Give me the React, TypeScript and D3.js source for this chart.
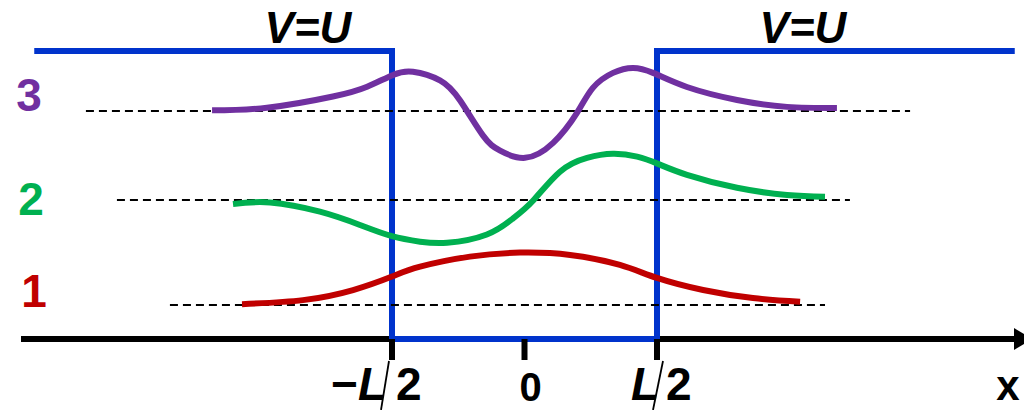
import * as d3 from "d3"

// potential well (x in units of L, energy in units of U)
const wellEdges = [-0.5, 0.5]
const barrierHeight = 1
const potentialSpan = [-1.85, 1.85]
const axisSpan = [-1.9, 1.9]

const tickValues = [-0.5, 0, 0.5]
const tickLabels = ["−L/2", "0", "L/2"]

const levelLabels = ["1", "2", "3"]
const levelEnergies = [0.118, 0.483, 0.792]
const levelLineSpans = [
  [-1.338, 1.134],
  [-1.538, 1.228],
  [-1.655, 1.455],
]

// wavefunctions: [x, psi offset from level]
const psi1 = [
  [-1.066, 0.003], [-0.836, 0.017], [-0.647, 0.052], [-0.5, 0.099],
  [-0.394, 0.133], [-0.206, 0.168], [-0.017, 0.182], [0.172, 0.174],
  [0.36, 0.139], [0.5, 0.094], [0.674, 0.052], [0.862, 0.024], [1.04, 0.011],
]
const psi2 = [
  [-1.1, -0.014], [-0.96, -0.009], [-0.772, -0.041], [-0.621, -0.087],
  [-0.5, -0.126], [-0.394, -0.145], [-0.292, -0.149], [-0.142, -0.12],
  [-0.043, -0.064], [0.032, -0.003], [0.134, 0.098], [0.236, 0.146],
  [0.334, 0.16], [0.425, 0.15], [0.504, 0.125], [0.613, 0.087],
  [0.802, 0.042], [0.991, 0.017], [1.134, 0.011],
]
const psi3 = [
  [-1.179, 0.002], [-0.972, 0.011], [-0.723, 0.05], [-0.594, 0.084],
  [-0.496, 0.125], [-0.421, 0.136], [-0.319, 0.106], [-0.243, 0.036],
  [-0.157, -0.085], [-0.092, -0.138], [0.002, -0.163],
  [0.108, -0.111], [0.198, -0.007], [0.258, 0.08], [0.334, 0.132],
  [0.409, 0.149], [0.485, 0.132], [0.613, 0.083], [0.802, 0.038],
  [0.991, 0.014], [1.179, 0.01],
]
const waves = [psi1, psi2, psi3]

const colors = ["#c00000", "#00b050", "#7030a0"]
const blue = "#0033cc"
const font = "'Liberation Sans', Arial, sans-serif"

const W = 1024
const H = 410

export default function App() {
  const x = d3.scaleLinear().domain(wellEdges).range([392, 657])
  const y = d3.scaleLinear().domain([0, barrierHeight]).range([339, 51])

  const potential: [number, number][] = [
    [potentialSpan[0], barrierHeight],
    [wellEdges[0], barrierHeight],
    [wellEdges[0], 0],
    [wellEdges[1], 0],
    [wellEdges[1], barrierHeight],
    [potentialSpan[1], barrierHeight],
  ]
  const potLine = d3
    .line<[number, number]>()
    .x((d) => x(d[0]))
    .y((d) => y(d[1]))

  const axisY = y(0)
  const axisX0 = x(axisSpan[0])
  const axisX1 = x(axisSpan[1])

  return (
    <svg
      width={W}
      height={H}
      style={{ position: "absolute", left: 0, top: 0, background: "#fff" }}
    >
      {/* x axis */}
      <line x1={axisX0} x2={axisX1 - 12} y1={axisY} y2={axisY} stroke="#000" strokeWidth={6} />
      <path
        d={`M${axisX1 - 14},${axisY - 11} L${axisX1 + 4},${axisY} L${axisX1 - 14},${axisY + 11} Z`}
        fill="#000"
      />

      {/* potential */}
      <path
        d={potLine(potential) || ""}
        fill="none"
        stroke={blue}
        strokeWidth={6}
        strokeLinejoin="miter"
      />

      {/* ticks */}
      {tickValues.map((t, i) => (
        <line key={i} x1={x(t)} x2={x(t)} y1={axisY} y2={axisY + 21} stroke="#000" strokeWidth={6} />
      ))}

      {/* tick labels */}
      <g fontFamily={font} fontWeight="bold" fill="#000">
        <text x={x(tickValues[0]) - 6} y={400} fontSize={46} textAnchor="end">
          {tickLabels[0].slice(0, 1)}
          <tspan fontStyle="italic">{tickLabels[0].slice(1, 2)}</tspan>
        </text>
        <line x1={x(tickValues[0]) - 3} y1={361} x2={x(tickValues[0]) - 11} y2={410} stroke="#000" strokeWidth={1.8} />
        <text x={x(tickValues[0]) + 4} y={400} fontSize={46}>
          {tickLabels[0].slice(3)}
        </text>

        <text x={x(tickValues[1]) + 6} y={401} fontSize={40} textAnchor="middle">
          {tickLabels[1]}
        </text>

        <text x={x(tickValues[2]) + 2} y={400} fontSize={46} textAnchor="end" fontStyle="italic">
          {tickLabels[2].slice(0, 1)}
        </text>
        <line x1={x(tickValues[2]) + 6} y1={361} x2={x(tickValues[2]) - 4} y2={410} stroke="#000" strokeWidth={1.8} />
        <text x={x(tickValues[2]) + 9} y={400} fontSize={46}>
          {tickLabels[2].slice(2)}
        </text>

        <text x={1008} y={400} fontSize={42} textAnchor="middle">x</text>

        <text x={308} y={43} fontSize={44} fontStyle="italic" textAnchor="middle">V=U</text>
        <text x={803} y={43} fontSize={44} fontStyle="italic" textAnchor="middle">V=U</text>
      </g>

      {/* energy levels */}
      {levelEnergies.map((e, i) => (
        <line
          key={i}
          x1={x(levelLineSpans[i][0])}
          x2={x(levelLineSpans[i][1])}
          y1={y(e)}
          y2={y(e)}
          stroke="#000"
          strokeWidth={2}
          strokeDasharray="8,5"
        />
      ))}

      {/* wavefunctions */}
      {waves.map((pts, i) => {
        const gen = d3
          .line<number[]>()
          .x((d) => x(d[0]))
          .y((d) => y(levelEnergies[i] + d[1]))
          .curve(d3.curveNatural)
        return (
          <path key={i} d={gen(pts) || ""} fill="none" stroke={colors[i]} strokeWidth={6} strokeLinecap="butt" />
        )
      })}

      {/* level numbers */}
      {levelLabels.map((l, i) => (
        <text
          key={i}
          x={[34, 31, 29][i]}
          y={[307, 215, 111][i]}
          fontFamily={font}
          fontWeight="bold"
          fontSize={46}
          textAnchor="middle"
          fill={colors[i]}
        >
          {l}
        </text>
      ))}
    </svg>
  )
}
